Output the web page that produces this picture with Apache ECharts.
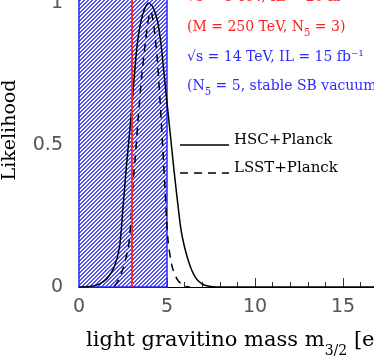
<!DOCTYPE html>
<html><head><meta charset="utf-8">
<script src="https://cdn.jsdelivr.net/npm/echarts@6/dist/echarts.min.js"></script>
<style>html,body{margin:0;padding:0;background:#fff;overflow:hidden;width:374px;height:356px}#c{position:absolute;left:0;top:-40px;width:480px;height:400px}</style>
</head><body><div id="c"></div>
<script>
// HSC+Planck (solid)
const hscX = [0,0.4,0.8,1.2,1.6,2.0,2.3,2.5,2.7,2.9,3.1,3.3,3.5,3.7,3.95,4.2,4.45,4.65,4.8,5.0,5.2,5.4,5.6,5.8,6.0,6.2,6.4,6.6,6.8,7.1,7.5,8.0,20];
const hscY = [0,0.001,0.004,0.012,0.03,0.07,0.14,0.28,0.43,0.56,0.71,0.85,0.93,0.975,1.0,0.985,0.94,0.86,0.77,0.65,0.53,0.41,0.3,0.2,0.14,0.095,0.06,0.036,0.02,0.007,0.002,0,0];
// LSST+Planck (dashed)
const lsstX = [2.0,2.2,2.5,2.8,2.95,3.05,3.2,3.37,3.56,3.75,3.94,4.08,4.25,4.45,4.6,4.75,4.9,5.05,5.3,5.6,6.0,6.3];
const lsstY = [0.003,0.02,0.065,0.14,0.23,0.35,0.46,0.6,0.74,0.85,0.94,0.97,0.92,0.8,0.66,0.5,0.33,0.17,0.07,0.025,0.003,0];
// excluded region and reference mass
const excludedRange = [0, 5];
const refMass = 3;
const xRange = [0, 20], xStep = 5;
const yRange = [0, 1.1], yStep = 0.5;
const legendNames = ['HSC+Planck', 'LSST+Planck'];
const redLines = ['√s = 8 TeV, IL = 20 fb⁻¹', ['(M = 250 TeV, N', '5', ' = 3)']];
const blueLines = ['√s = 14 TeV, IL = 15 fb⁻¹', ['(N', '5', ' = 5, stable SB vacuum)']];

const OY = 40; // vertical offset of the drawing surface
// crisp pixel hatch tile ("/" direction), 4px period
const T = 4;
const tile = document.createElement('canvas'); tile.width = T; tile.height = T;
const g = tile.getContext('2d');
g.fillStyle = '#ffffff'; g.fillRect(0, 0, T, T);
g.fillStyle = '#5252ff';
for (let yy = 0; yy < T; yy++) {
  const x0 = (T - 1 - yy) % T;
  g.fillRect(x0, yy, 1, 1);
  g.fillRect((x0 + 1) % T, yy, 1, 1);
}

const zip = (a, b) => a.map((v, i) => [v, b[i]]);
const serif = 'DejaVu Serif';
function richLine(parts, color, size) {
  if (typeof parts === 'string') parts = [parts];
  const txt = parts.map((p, i) => (i % 2 === 1 ? '{s|' : '{a|') + p + '}').join('');
  return {
    text: txt,
    rich: {
      a: {fontFamily: serif, fontSize: size, lineHeight: 16, verticalAlign: 'top', color: color},
      s: {fontFamily: serif, fontSize: size * 0.72, lineHeight: 10, padding: [8,0,0,0], verticalAlign: 'top', color: color}
    }
  };
}
const annot = [];
[[redLines, '#ff1f1f', -10, 30], [blueLines, '#2a2aff', 50, 29]].forEach(([lines, col, y0, dy]) => {
  lines.forEach((l, i) => {
    annot.push({type: 'text', x: 187, y: OY + y0 + i * dy, silent: true, style: Object.assign(richLine(l, col, 14), {fill: col})});
  });
});

const chart = echarts.init(document.getElementById('c'));
chart.setOption({
  animation: false,
  grid: {left: 79, right: 49, top: 14.6, bottom: 73},
  xAxis: {
    type: 'value', min: xRange[0], max: xRange[1], interval: xStep,
    axisLine: {lineStyle: {color: '#000', width: 1.2}},
    axisTick: {inside: true, length: 9, lineStyle: {color: '#333'}},
    minorTick: {show: true, splitNumber: 5, length: 5, lineStyle: {color: '#333'}},
    splitLine: {show: false},
    axisLabel: {margin: 11, fontFamily: 'DejaVu Sans', fontSize: 19, color: '#555', showMaxLabel: false}
  },
  yAxis: {
    type: 'value', min: yRange[0], max: yRange[1], interval: yStep,
    axisLine: {show: true, lineStyle: {color: '#000', width: 1.2}},
    axisTick: {inside: true, length: 8, lineStyle: {color: '#333'}},
    minorTick: {show: true, splitNumber: 5, length: 5, lineStyle: {color: '#333'}},
    splitLine: {show: false},
    axisLabel: {margin: 16, fontFamily: 'DejaVu Sans', fontSize: 19, color: '#555', showMaxLabel: false}
  },
  series: [
    {
      name: legendNames[0], type: 'line', data: zip(hscX, hscY), smooth: 0.3, showSymbol: false, z: 3,
      lineStyle: {color: '#000', width: 1.5},
      markArea: {silent: true, z: 1, itemStyle: {color: {image: tile, repeat: 'repeat'}, opacity: 1, borderColor: '#2b2bff', borderWidth: 1.5},
        data: [[{xAxis: excludedRange[0], yAxis: yRange[0]}, {xAxis: excludedRange[1], yAxis: yRange[1]}]]},
      markLine: {silent: true, z: 10, symbol: 'none', label: {show: false}, lineStyle: {color: '#ff2a2a', width: 2, type: 'solid', opacity: 1},
        data: [{xAxis: refMass}]}
    },
    {
      name: legendNames[1], type: 'line', data: zip(lsstX, lsstY), smooth: 0.3, showSymbol: false, z: 3,
      lineStyle: {color: '#000', width: 1.5, type: [8, 6]}
    }
  ],
  graphic: [
    {type: 'line', silent: true, shape: {x1: 180, y1: OY + 145, x2: 229, y2: OY + 145}, style: {stroke: '#000', lineWidth: 1.3}},
    {type: 'line', silent: true, shape: {x1: 180, y1: OY + 173, x2: 229, y2: OY + 173}, style: {stroke: '#000', lineWidth: 1.3, lineDash: [8, 6]}},
    {type: 'text', x: 234, y: OY + 140, silent: true, style: {text: legendNames[0], font: '15px DejaVu Serif', fill: '#000', verticalAlign: 'middle'}},
    {type: 'text', x: 234, y: OY + 168, silent: true, style: {text: legendNames[1], font: '15px DejaVu Serif', fill: '#000', verticalAlign: 'middle'}},
    {type: 'text', x: 10, y: OY + 130, rotation: Math.PI / 2, silent: true, style: {text: 'Likelihood', font: '19px DejaVu Serif', fill: '#000', align: 'center', verticalAlign: 'middle'}},
    {type: 'text', x: 86, y: OY + 330, silent: true, style: {
      text: '{a|light gravitino mass m}{s|3/2}{a| [eV]}',
      rich: {
        a: {fontFamily: serif, fontSize: 21, lineHeight: 22, verticalAlign: 'top', color: '#000'},
        s: {fontFamily: serif, fontSize: 14, lineHeight: 12, padding: [14,0,0,0], verticalAlign: 'top', color: '#000'}
      }}}
  ].concat(annot)
});
</script></body></html>
